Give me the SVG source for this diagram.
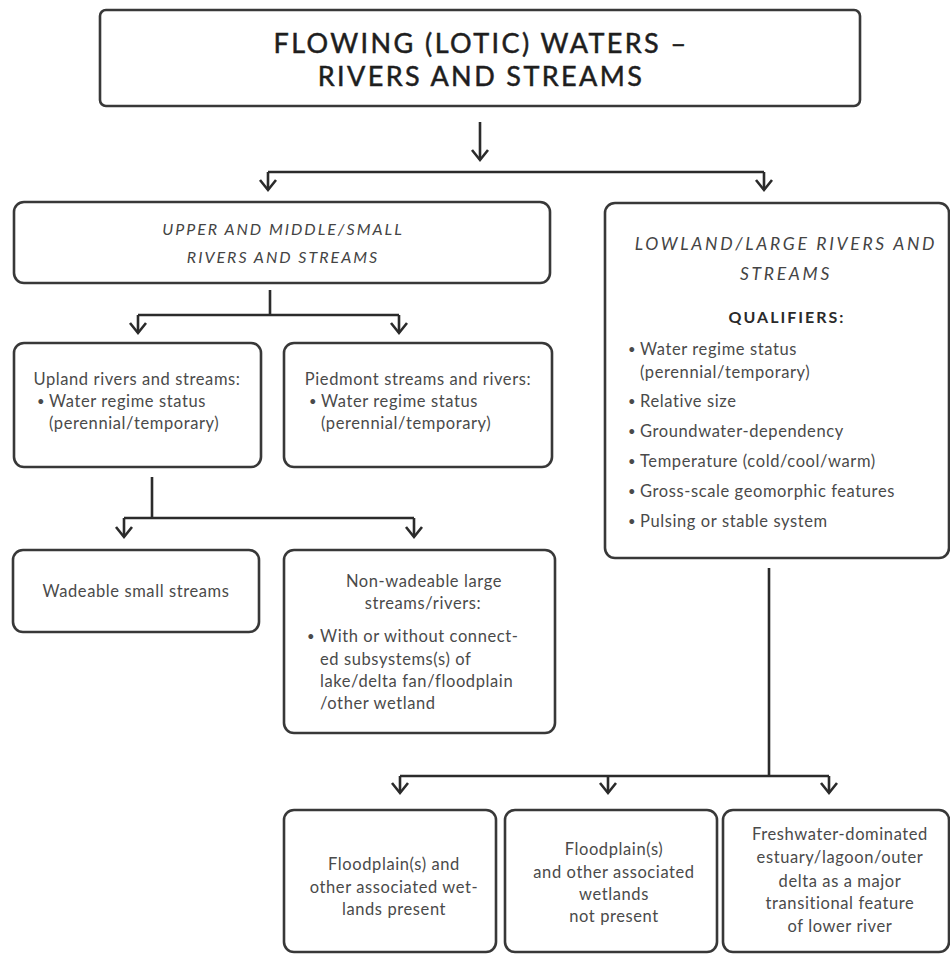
<svg xmlns="http://www.w3.org/2000/svg" width="950" height="956" viewBox="0 0 950 956">
  <style>
    .box { fill: #ffffff; stroke: #383838; stroke-width: 2.6; }
    .wire { fill: none; stroke: #2b2b2b; stroke-width: 2.6; }
    .title { font-family: Lato, "Liberation Sans", sans-serif; font-size: 27px; letter-spacing: 2.4px; fill: #1e1e1e; stroke: #1e1e1e; stroke-width: 0.5px; text-anchor: middle; }
    .head { font-family: Lato, "Liberation Sans", sans-serif; font-style: italic; font-size: 16px; letter-spacing: 2px; fill: #444; text-anchor: middle; }
    .headL { font-family: Lato, "Liberation Sans", sans-serif; font-style: italic; font-size: 17.5px; letter-spacing: 2.7px; fill: #444; text-anchor: middle; }
    .qual { font-family: Lato, "Liberation Sans", sans-serif; font-weight: bold; font-size: 16px; letter-spacing: 2px; fill: #2a2a2a; text-anchor: middle; }
    .body { font-family: Lato, "Liberation Sans", sans-serif; font-size: 16.5px; letter-spacing: 0.6px; fill: #4a4a4a; }
    .mid { text-anchor: middle; }
    .dot { font-family: Lato, "Liberation Sans", sans-serif; font-size: 13px; fill: #4a4a4a; }
  </style>
  <defs>
    <marker id="chev" viewBox="-12 -11 24 22" markerWidth="24" markerHeight="22" markerUnits="userSpaceOnUse" refX="0" refY="0" orient="auto">
      <path d="M-10,-8 L0,0 L-10,8" fill="none" stroke="#2b2b2b" stroke-width="2.6"/>
    </marker>
  </defs>
  <rect width="950" height="956" fill="#ffffff"/>

  <!-- connectors: vertical drops, horizontal bars, chevron tips -->
  <g id="connectors">
    <path class="wire" d="M480,122 V160" marker-end="url(#chev)"/>
    <path class="wire" d="M268,172 H764"/>
    <path class="wire" d="M268,172 V190" marker-end="url(#chev)"/>
    <path class="wire" d="M764,172 V190" marker-end="url(#chev)"/>

    <path class="wire" d="M270,290 V315 M138,315 H399"/>
    <path class="wire" d="M138,315 V333" marker-end="url(#chev)"/>
    <path class="wire" d="M399,315 V333" marker-end="url(#chev)"/>

    <path class="wire" d="M152,477 V518 M124,518 H414"/>
    <path class="wire" d="M124,518 V537" marker-end="url(#chev)"/>
    <path class="wire" d="M414,518 V537" marker-end="url(#chev)"/>

    <path class="wire" d="M769,568 V776 M400,776 H829"/>
    <path class="wire" d="M400,776 V793" marker-end="url(#chev)"/>
    <path class="wire" d="M608,776 V793" marker-end="url(#chev)"/>
    <path class="wire" d="M829,776 V793" marker-end="url(#chev)"/>
  </g>

  <g id="lotic-waters">
    <rect class="box" x="100" y="10" width="760" height="96" rx="6"/>
    <text class="title" x="481" y="53">FLOWING (LOTIC) WATERS –</text>
    <text class="title" x="481" y="86">RIVERS AND STREAMS</text>
  </g>

  <g id="upper-middle">
    <rect class="box" x="14" y="202" width="536" height="81" rx="10"/>
    <text class="head" x="283" y="235">UPPER AND MIDDLE/SMALL</text>
    <text class="head" x="283" y="263">RIVERS AND STREAMS</text>
  </g>

  <g id="lowland">
    <rect class="box" x="605" y="203" width="344" height="355" rx="10"/>
    <text class="headL" x="786" y="250">LOWLAND/LARGE RIVERS AND</text>
    <text class="headL" x="786" y="280">STREAMS</text>
    <text class="qual" x="787" y="323">QUALIFIERS:</text>
    <text class="dot" x="628" y="354">•</text>
    <text class="body" x="640" y="355">Water regime status</text>
    <text class="body" x="640" y="378">(perennial/temporary)</text>
    <text class="dot" x="628" y="406">•</text>
    <text class="body" x="640" y="407">Relative size</text>
    <text class="dot" x="628" y="436">•</text>
    <text class="body" x="640" y="437">Groundwater-dependency</text>
    <text class="dot" x="628" y="466">•</text>
    <text class="body" x="640" y="467">Temperature (cold/cool/warm)</text>
    <text class="dot" x="628" y="496">•</text>
    <text class="body" x="640" y="497">Gross-scale geomorphic features</text>
    <text class="dot" x="628" y="526">•</text>
    <text class="body" x="640" y="527">Pulsing or stable system</text>
  </g>

  <g id="upland">
    <rect class="box" x="14" y="343" width="247" height="124" rx="10"/>
    <text class="body mid" x="137" y="385">Upland rivers and streams:</text>
    <text class="dot" x="37" y="406">•</text>
    <text class="body" x="49" y="407">Water regime status</text>
    <text class="body" x="49" y="429">(perennial/temporary)</text>
  </g>

  <g id="piedmont">
    <rect class="box" x="284" y="343" width="268" height="124" rx="10"/>
    <text class="body mid" x="418" y="385">Piedmont streams and rivers:</text>
    <text class="dot" x="309" y="406">•</text>
    <text class="body" x="321" y="407">Water regime status</text>
    <text class="body" x="321" y="429">(perennial/temporary)</text>
  </g>

  <g id="wadeable">
    <rect class="box" x="13" y="550" width="246" height="82" rx="10"/>
    <text class="body mid" x="136" y="597">Wadeable small streams</text>
  </g>

  <g id="non-wadeable">
    <rect class="box" x="284" y="550" width="271" height="183" rx="10"/>
    <text class="body mid" x="424" y="587">Non-wadeable large</text>
    <text class="body mid" x="423" y="609">streams/rivers:</text>
    <text class="dot" x="307" y="641">•</text>
    <text class="body" x="320" y="642">With or without connect-</text>
    <text class="body" x="320" y="665">ed subsystems(s) of</text>
    <text class="body" x="320" y="687">lake/delta fan/floodplain</text>
    <text class="body" x="320" y="709">/other wetland</text>
  </g>

  <g id="floodplain-present">
    <rect class="box" x="284" y="810" width="212" height="142" rx="10"/>
    <text class="body mid" x="394" y="870">Floodplain(s) and</text>
    <text class="body mid" x="394" y="893">other associated wet-</text>
    <text class="body mid" x="394" y="915">lands present</text>
  </g>

  <g id="floodplain-absent">
    <rect class="box" x="505" y="810" width="212" height="142" rx="10"/>
    <text class="body mid" x="614" y="855">Floodplain(s)</text>
    <text class="body mid" x="614" y="878">and other associated</text>
    <text class="body mid" x="614" y="900">wetlands</text>
    <text class="body mid" x="614" y="922">not present</text>
  </g>

  <g id="estuary">
    <rect class="box" x="723" y="810" width="226" height="142" rx="10"/>
    <text class="body mid" x="840" y="840">Freshwater-dominated</text>
    <text class="body mid" x="840" y="863">estuary/lagoon/outer</text>
    <text class="body mid" x="840" y="887">delta as a major</text>
    <text class="body mid" x="840" y="909">transitional feature</text>
    <text class="body mid" x="840" y="932">of lower river</text>
  </g>
</svg>
